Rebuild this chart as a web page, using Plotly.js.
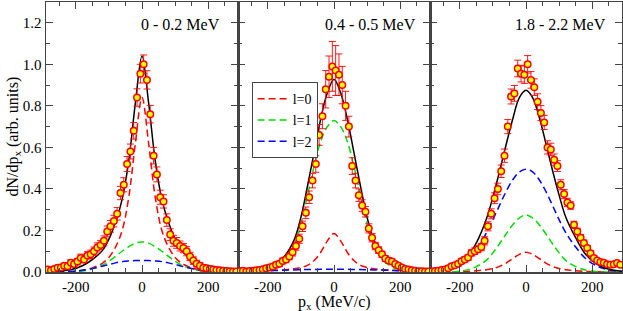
<!DOCTYPE html>
<html><head><meta charset="utf-8">
<script src="https://cdn.plot.ly/plotly-3.0.1.min.js"></script>
<style>html,body{margin:0;padding:0;background:#fff}</style>
</head><body><div id="chart" style="width:623px;height:311px"></div>
<script>
const panelLabels = ['0 - 0.2 MeV', '0.4 - 0.5 MeV', '1.8 - 2.2 MeV'];
const legendNames = ['l=0', 'l=1', 'l=2'];
const xTickVals = [-200, 0, 200];
const xTickText = ['-200', '0', '200'];

// model curves sampled on this grid (MeV/c)
const curveX = [-290,-250,-210,-180,-150,-120,-100,-80,-60,-40,-20,0,20,40,60,80,100,120,150,180,210,250,290];

// panel 1: 0 - 0.2 MeV
const total1 = [0.001,0.004,0.013,0.03,0.06,0.103,0.158,0.239,0.35,0.535,0.814,1.04,0.814,0.535,0.35,0.239,0.158,0.103,0.06,0.03,0.013,0.004,0.001];
const lzero1 = [0,0.001,0.003,0.008,0.02,0.042,0.07,0.12,0.20,0.36,0.62,0.84,0.62,0.36,0.20,0.12,0.07,0.042,0.02,0.008,0.003,0.001,0];
const lone1  = [0,0,0.002,0.005,0.015,0.033,0.052,0.075,0.100,0.122,0.139,0.145,0.139,0.122,0.100,0.075,0.052,0.033,0.015,0.005,0.002,0,0];
const ltwo1  = [0,0.001,0.003,0.008,0.017,0.028,0.036,0.044,0.05,0.053,0.055,0.055,0.055,0.053,0.05,0.044,0.036,0.028,0.017,0.008,0.003,0.001,0];

// panel 2: 0.4 - 0.5 MeV
const total2 = [0.004,0.009,0.018,0.035,0.075,0.156,0.263,0.414,0.577,0.738,0.863,0.928,0.863,0.738,0.577,0.414,0.263,0.156,0.075,0.035,0.018,0.009,0.004];
const lzero2 = [0.002,0.003,0.005,0.008,0.011,0.016,0.022,0.032,0.055,0.095,0.15,0.185,0.15,0.095,0.055,0.032,0.022,0.016,0.011,0.008,0.005,0.003,0.002];
const lone2  = [0,0.002,0.007,0.02,0.055,0.13,0.23,0.37,0.51,0.63,0.70,0.73,0.70,0.63,0.51,0.37,0.23,0.13,0.055,0.02,0.007,0.002,0];
const ltwo2  = [0.002,0.004,0.006,0.007,0.009,0.01,0.011,0.012,0.012,0.013,0.013,0.013,0.013,0.013,0.012,0.012,0.011,0.01,0.009,0.007,0.006,0.004,0.002];

// panel 3: 1.8 - 2.2 MeV
const total3 = [0.002,0.007,0.029,0.067,0.14,0.254,0.361,0.484,0.614,0.737,0.84,0.875,0.84,0.745,0.62,0.49,0.37,0.265,0.165,0.085,0.042,0.013,0.004];
const lzero3 = [0,0,0.001,0.003,0.006,0.011,0.017,0.027,0.043,0.065,0.085,0.095,0.085,0.065,0.043,0.027,0.017,0.011,0.006,0.003,0.001,0,0];
const lone3  = [0,0,0.003,0.009,0.026,0.056,0.092,0.136,0.183,0.228,0.26,0.275,0.26,0.228,0.183,0.136,0.092,0.056,0.026,0.009,0.003,0,0];
const ltwo3  = [0.002,0.007,0.025,0.055,0.108,0.187,0.252,0.321,0.388,0.444,0.482,0.495,0.482,0.444,0.388,0.321,0.252,0.19,0.12,0.065,0.032,0.01,0.003];

// measured points
const dataX = [-285,-275,-265,-255,-245,-235,-225,-215,-205,-195,-185,-175,-165,-155,-145,-135,-125,-115,-105,-95,-85,-75,-65,-55,-45,-35,-25,-15,-5,
               5,15,25,35,45,55,65,75,85,95,105,115,125,135,145,155,165,175,185,195,205,215,225,235,245,255,265,275,285];

const data1 = [0.012,0.008,0.015,0.020,0.022,0.030,0.028,0.045,0.038,0.050,0.068,0.060,0.080,0.085,0.100,0.118,0.130,0.150,0.195,0.220,0.245,0.280,0.380,0.420,0.520,0.580,0.680,0.840,0.955,
               1.000,0.925,0.760,0.560,0.470,0.360,0.340,0.250,0.180,0.150,0.140,0.125,0.115,0.100,0.075,0.055,0.040,0.030,0.020,0.018,0.015,0.012,0.010,0.008,0.006,0.005,0.004,0.003,0.002];
const err1 = [0.012,0.01,0.012,0.012,0.014,0.012,0.015,0.014,0.015,0.016,0.018,0.016,0.018,0.02,0.02,0.022,0.022,0.024,0.026,0.028,0.028,0.03,0.032,0.034,0.036,0.036,0.04,0.042,0.045,
              0.045,0.044,0.042,0.04,0.036,0.034,0.032,0.03,0.028,0.026,0.026,0.024,0.022,0.022,0.02,0.018,0.016,0.016,0.015,0.014,0.014,0.013,0.012,0.012,0.012,0.01,0.01,0.01,0.01];

const data2 = [0.004,0.006,0.003,0.005,0.006,0.008,0.010,0.013,0.018,0.022,0.026,0.035,0.040,0.053,0.060,0.075,0.095,0.125,0.160,0.220,0.285,0.360,0.440,0.520,0.660,0.750,0.880,0.940,0.990,
               0.970,0.950,0.900,0.800,0.700,0.510,0.440,0.370,0.320,0.290,0.210,0.165,0.125,0.105,0.085,0.065,0.055,0.050,0.038,0.030,0.022,0.015,0.012,0.008,0.006,0.004,0.004,0.003,0.003];
const err2 = [0.006,0.006,0.006,0.007,0.007,0.008,0.008,0.009,0.01,0.01,0.011,0.012,0.013,0.014,0.015,0.016,0.018,0.02,0.022,0.025,0.028,0.03,0.035,0.04,0.05,0.06,0.09,0.1,0.12,
              0.12,0.1,0.09,0.07,0.05,0.04,0.035,0.03,0.028,0.025,0.022,0.02,0.018,0.016,0.015,0.014,0.013,0.012,0.011,0.01,0.01,0.009,0.008,0.008,0.007,0.007,0.006,0.006,0.006];

const data3 = [0.003,0.005,0.006,0.010,0.012,0.018,0.028,0.032,0.040,0.052,0.060,0.070,0.092,0.100,0.110,0.120,0.150,0.220,0.280,0.355,0.400,0.485,0.560,0.700,0.845,0.860,0.980,0.955,0.950,
               1.000,0.925,0.890,0.820,0.765,0.720,0.600,0.590,0.540,0.510,0.420,0.375,0.335,0.320,0.227,0.195,0.165,0.140,0.115,0.090,0.068,0.055,0.048,0.045,0.037,0.035,0.037,0.043,0.035];
const err3 = [0.006,0.006,0.007,0.008,0.008,0.009,0.01,0.01,0.011,0.012,0.013,0.014,0.015,0.016,0.017,0.018,0.02,0.022,0.024,0.026,0.028,0.03,0.032,0.034,0.036,0.038,0.04,0.04,0.042,
              0.042,0.04,0.04,0.038,0.036,0.034,0.032,0.03,0.028,0.026,0.024,0.022,0.02,0.018,0.017,0.016,0.015,0.014,0.013,0.012,0.011,0.01,0.01,0.009,0.008,0.008,0.007,0.006,0.006];

const panels = [
  {total: total1, comps: [lzero1, lone1, ltwo1], data: data1, err: err1},
  {total: total2, comps: [lzero2, lone2, ltwo2], data: data2, err: err2},
  {total: total3, comps: [lzero3, lone3, ltwo3], data: data3, err: err3}
];
const compColors = ['#ff0000', '#00dd00', '#0000ff'];
const FONT = 'Liberation Serif';

const traces = [];
const layout = {
  width: 623, height: 311,
  margin: {l: 46, r: 1, t: 2, b: 39},
  paper_bgcolor: '#fff', plot_bgcolor: '#fff',
  showlegend: true,
  legend: {x: 0.357, y: 0.703, xanchor: 'left', yanchor: 'top',
           bgcolor: '#fff', bordercolor: '#444', borderwidth: 1,
           font: {family: FONT, size: 14, color: '#000'}, tracegroupgap: 0, itemwidth: 30},
  annotations: [],
  font: {family: FONT}
};
const labelX = [242, 254, 248];

panels.forEach((p, i) => {
  const n = i + 1;
  const xa = n === 1 ? 'x' : 'x' + n;
  const ya = n === 1 ? 'y' : 'y' + n;
  p.comps.forEach((c, k) => {
    traces.push({x: curveX, y: c, xaxis: xa, yaxis: ya, type: 'scatter', mode: 'lines',
      line: {color: compColors[k], width: 1.5, dash: '7px,4px', shape: 'spline', smoothing: 1},
      name: legendNames[k], showlegend: n === 2, hoverinfo: 'skip'});
  });
  traces.push({x: curveX, y: p.total, xaxis: xa, yaxis: ya, type: 'scatter', mode: 'lines',
    line: {color: '#000', width: 1.5, shape: 'spline', smoothing: 1}, showlegend: false});
  traces.push({x: dataX, y: p.data, xaxis: xa, yaxis: ya, type: 'scatter', mode: 'markers',
    marker: {symbol: 'circle', size: 6.5, color: '#ffff00', line: {color: '#ff0000', width: 1.5}},
    error_y: {type: 'data', array: p.err, visible: true, color: 'rgba(255,0,0,0.9)', thickness: 1, width: 3.5},
    showlegend: false, cliponaxis: true});

  const axCommon = {showline: true, mirror: 'ticks', linecolor: '#444', linewidth: 1.5,
    ticks: 'inside', ticklen: 7, tickcolor: '#444', tickwidth: 1,
    showgrid: false, zeroline: false, fixedrange: true,
    tickfont: {family: FONT, size: 15, color: '#000'}};
  layout[n === 1 ? 'xaxis' : 'xaxis' + n] = Object.assign({}, axCommon, {
    domain: [(n - 1) / 3, n / 3], range: [-290, 290], anchor: ya,
    tickmode: 'array', tickvals: xTickVals, ticktext: xTickText,
    minor: {ticks: 'inside', tick0: 0, dtick: 50, ticklen: 4, tickcolor: '#444'}
  });
  layout[n === 1 ? 'yaxis' : 'yaxis' + n] = Object.assign({}, axCommon, {
    domain: [0, 1], range: [0, 1.3], anchor: xa,
    tick0: 0, dtick: 0.2, tickformat: '.1f', showticklabels: n === 1,
    minor: {ticks: 'inside', tick0: 0, dtick: 0.1, ticklen: 4, tickcolor: '#444'}
  });
  layout.annotations.push({text: panelLabels[i], xref: xa, yref: 'paper', x: labelX[i], y: 0.915,
    xanchor: 'right', yanchor: 'middle', showarrow: false, font: {family: FONT, size: 16, color: '#000'}});
});

layout.annotations.push({text: 'dN/dp<sub>x</sub> (arb. units)', xref: 'paper', yref: 'paper',
  x: -0.058, y: 0.5, xanchor: 'center', yanchor: 'middle', textangle: -90, showarrow: false,
  font: {family: FONT, size: 16, color: '#000'}});
layout.annotations.push({text: 'p<sub>x</sub> (MeV/c)', xref: 'paper', yref: 'paper',
  x: 0.5, y: -0.112, xanchor: 'center', yanchor: 'middle', showarrow: false,
  font: {family: FONT, size: 16, color: '#000'}});

Plotly.newPlot('chart', traces, layout, {staticPlot: true, displayModeBar: false});
</script></body></html>
